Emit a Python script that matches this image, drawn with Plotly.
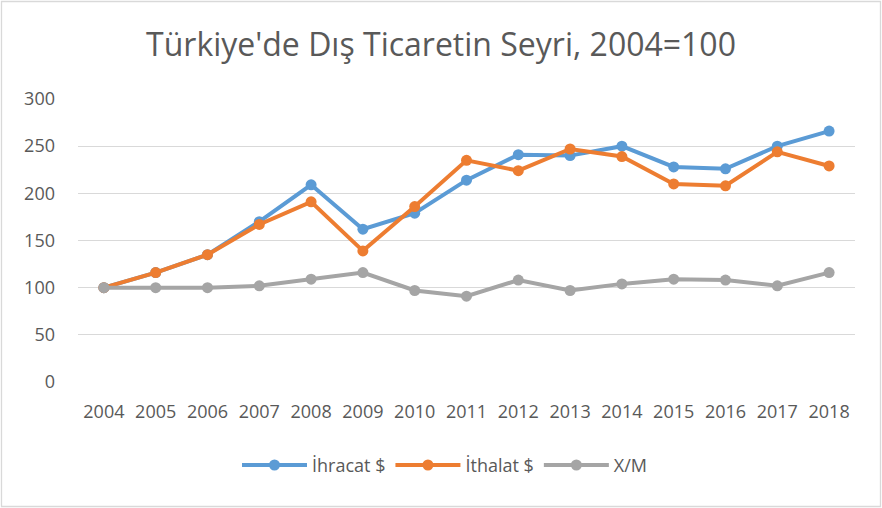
import plotly.graph_objects as go

years = ["2004", "2005", "2006", "2007", "2008", "2009", "2010", "2011",
         "2012", "2013", "2014", "2015", "2016", "2017", "2018"]
ihracat = [100, 116, 135, 170, 209, 162, 179, 214, 241, 240, 250, 228, 226, 250, 266]
ithalat = [100, 116, 135, 167, 191, 139, 186, 235, 224, 247, 239, 210, 208, 244, 229]
xm = [100, 100, 100, 102, 109, 116, 97, 91, 108, 97, 104, 109, 108, 102, 116]

series = [("İhracat $", ihracat, "#5B9BD5"),
          ("İthalat $", ithalat, "#ED7D31"),
          ("X/M", xm, "#A5A5A5")]

FONT = "Open Sans"
TXT = "#595959"

fig = go.Figure()
for name, vals, col in series:
    fig.add_trace(go.Scatter(
        x=years, y=vals, name=name, mode="lines+markers",
        line=dict(color=col, width=4),
        marker=dict(color=col, size=11),
    ))

L, R, T, B = 78, 27, 99, 126
W, H = 882, 508
pw, ph = W - L - R, H - T - B

fig.update_layout(
    width=W, height=H,
    margin=dict(l=L, r=R, t=T, b=B),
    paper_bgcolor="white", plot_bgcolor="white",
    font=dict(family=FONT, color=TXT, size=18),
    title=dict(text="Türkiye'de Dış Ticaretin Seyri, 2004=100",
               x=0.5, xanchor="center", y=1 - 45 / H, yanchor="middle",
               font=dict(size=32, color=TXT, family=FONT)),
    xaxis=dict(type="category", range=[-0.5, 14.5], showgrid=False,
               showline=False, zeroline=False, ticks="",
               tickfont=dict(size=18, color=TXT), ticklabelstandoff=17),
    yaxis=dict(range=[0, 300], dtick=50, tick0=0, showgrid=True,
               gridcolor="#D9D9D9", gridwidth=1.3, zeroline=False,
               showline=False, ticks="", tickfont=dict(size=18, color=TXT),
               ticklabelstandoff=22),
    legend=dict(orientation="h", x=(445 - L) / pw, xanchor="center",
                y=(381.7 - 465) / ph, yanchor="middle",
                font=dict(size=18, color=TXT), itemwidth=65,
                traceorder="normal"),
    showlegend=True,
    shapes=[dict(type="rect", xref="paper", yref="paper",
                 x0=(1.5 - L) / pw, x1=(880.5 - L) / pw,
                 y0=-(H - 1.5 - (T + ph)) / ph, y1=1 + (T - 1.5) / ph,
                 line=dict(color="#D9D9D9", width=1.3), layer="below")],
)

fig.write_html("out.html", config={"displayModeBar": False},
               post_script="document.body.style.margin='0';document.body.style.overflow='hidden';")
